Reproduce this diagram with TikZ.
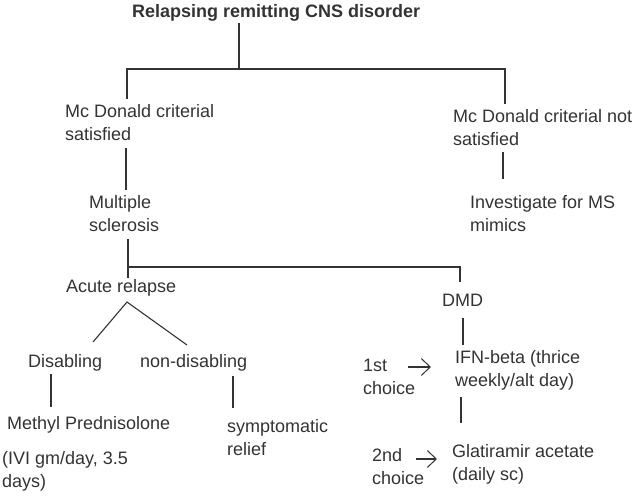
\documentclass[tikz,border=0pt]{standalone}
\usepackage{fontspec}
\setmainfont{Liberation Sans}
\usetikzlibrary{arrows.meta}
\definecolor{ink}{HTML}{333333}
\tikzset{
  lbl/.style={anchor=base west, align=left, inner xsep=0pt, inner ysep=5pt, text=ink,
    font=\fontsize{18}{23}\selectfont},
  lnk/.style={draw=ink, line width=1.1pt},
  arr/.style={lnk, -{Straight Barb[length=9pt,width=17pt,line width=1pt]}},
}
\begin{document}
\begin{tikzpicture}[x=1pt,y=-1pt]
\useasboundingbox (0,0) rectangle (638,496);
% top level (two-line texts sit on the baseline of their last line)
\node[lbl, font=\fontsize{18}{23}\selectfont\bfseries] (title) at (132,17) {Relapsing remitting CNS disorder};
\node[lbl] (mcy) at (65,140) {Mc Donald criterial\\satisfied};
\node[lbl] (mcn) at (453,145) {Mc Donald criterial not\\satisfied};
\node[lbl] (ms) at (89,231) {Multiple\\sclerosis};
\node[lbl] (mimic) at (470,231) {Investigate for MS\\mimics};
% treatment
\node[lbl] (acute) at (66,292) {Acute relapse};
\node[lbl] (dmd) at (442,306) {DMD};
\node[lbl] (dis) at (28,367) {Disabling};
\node[lbl] (ndis) at (140,367) {non-disabling};
\node[lbl] (mpred) at (7,429) {Methyl Prednisolone};
\node[lbl] (dose) at (2,487) {(IVI gm/day, 3.5\\days)};
\node[lbl] (sympt) at (227,455) {symptomatic\\relief};
\node[lbl] (ifn) at (455,386) {IFN-beta (thrice\\weekly/alt day)};
\node[lbl] (ch1) at (363,394) {1st\\choice};
\node[lbl] (glat) at (452,480) {Glatiramir acetate\\(daily sc)};
\node[lbl] (ch2) at (372,484) {2nd\\choice};
% junctions
\coordinate (t0) at (239,69);
\coordinate (tl) at (127,69);
\coordinate (tr) at (505,69);
\coordinate (x1) at (126,0);
\coordinate (x2) at (503,0);
\coordinate (b0) at (128,267);
\coordinate (b1) at (460,267);
\coordinate (ap) at (127,302);
\coordinate (dl) at (93,342);
\coordinate (dr) at (187,345);
\coordinate (x3) at (51,0);
\coordinate (x4) at (233,0);
\coordinate (x5) at (463,0);
\coordinate (x6) at (461,0);
\coordinate (a1) at (408,367);
\coordinate (a1e) at (431,367);
\coordinate (a2) at (416,459);
\coordinate (a2e) at (437,459);
% connectors
\draw[lnk, shorten <=-3pt] (title.south -| t0) -- (t0);
\draw[lnk] (mcy.north -| tl) -- (tl) -- (tr) -- (mcn.north -| tr);
\draw[lnk, shorten <=3pt] (mcy.south -| x1) -- (ms.north -| x1);
\draw[lnk, shorten <=2pt, shorten >=11pt] (mcn.south -| x2) -- (mimic.north -| x2);
\draw[lnk, shorten <=3pt, shorten >=-4pt] (ms.south -| b0) -- (acute.north -| b0);
\draw[lnk, shorten >=6pt] (b0) -- (b1) -- (dmd.north -| b1);
\draw[lnk] (dl) -- (ap) -- (dr);
\draw[lnk, shorten <=-2pt, shorten >=4pt] (dis.south -| x3) -- (mpred.north -| x3);
\draw[lnk, line width=1.7pt, shorten >=6pt] (ndis.south -| x4) -- (sympt.north -| x4);
\draw[lnk, shorten <=7pt] (dmd.south -| x5) -- (ifn.north -| x5);
\draw[lnk, line width=1.5pt, shorten <=2pt, shorten >=16pt] (ifn.south -| x6) -- (glat.north -| x6);
\draw[arr] (a1) -- (a1e);
\draw[arr] (a2) -- (a2e);
\end{tikzpicture}
\end{document}
